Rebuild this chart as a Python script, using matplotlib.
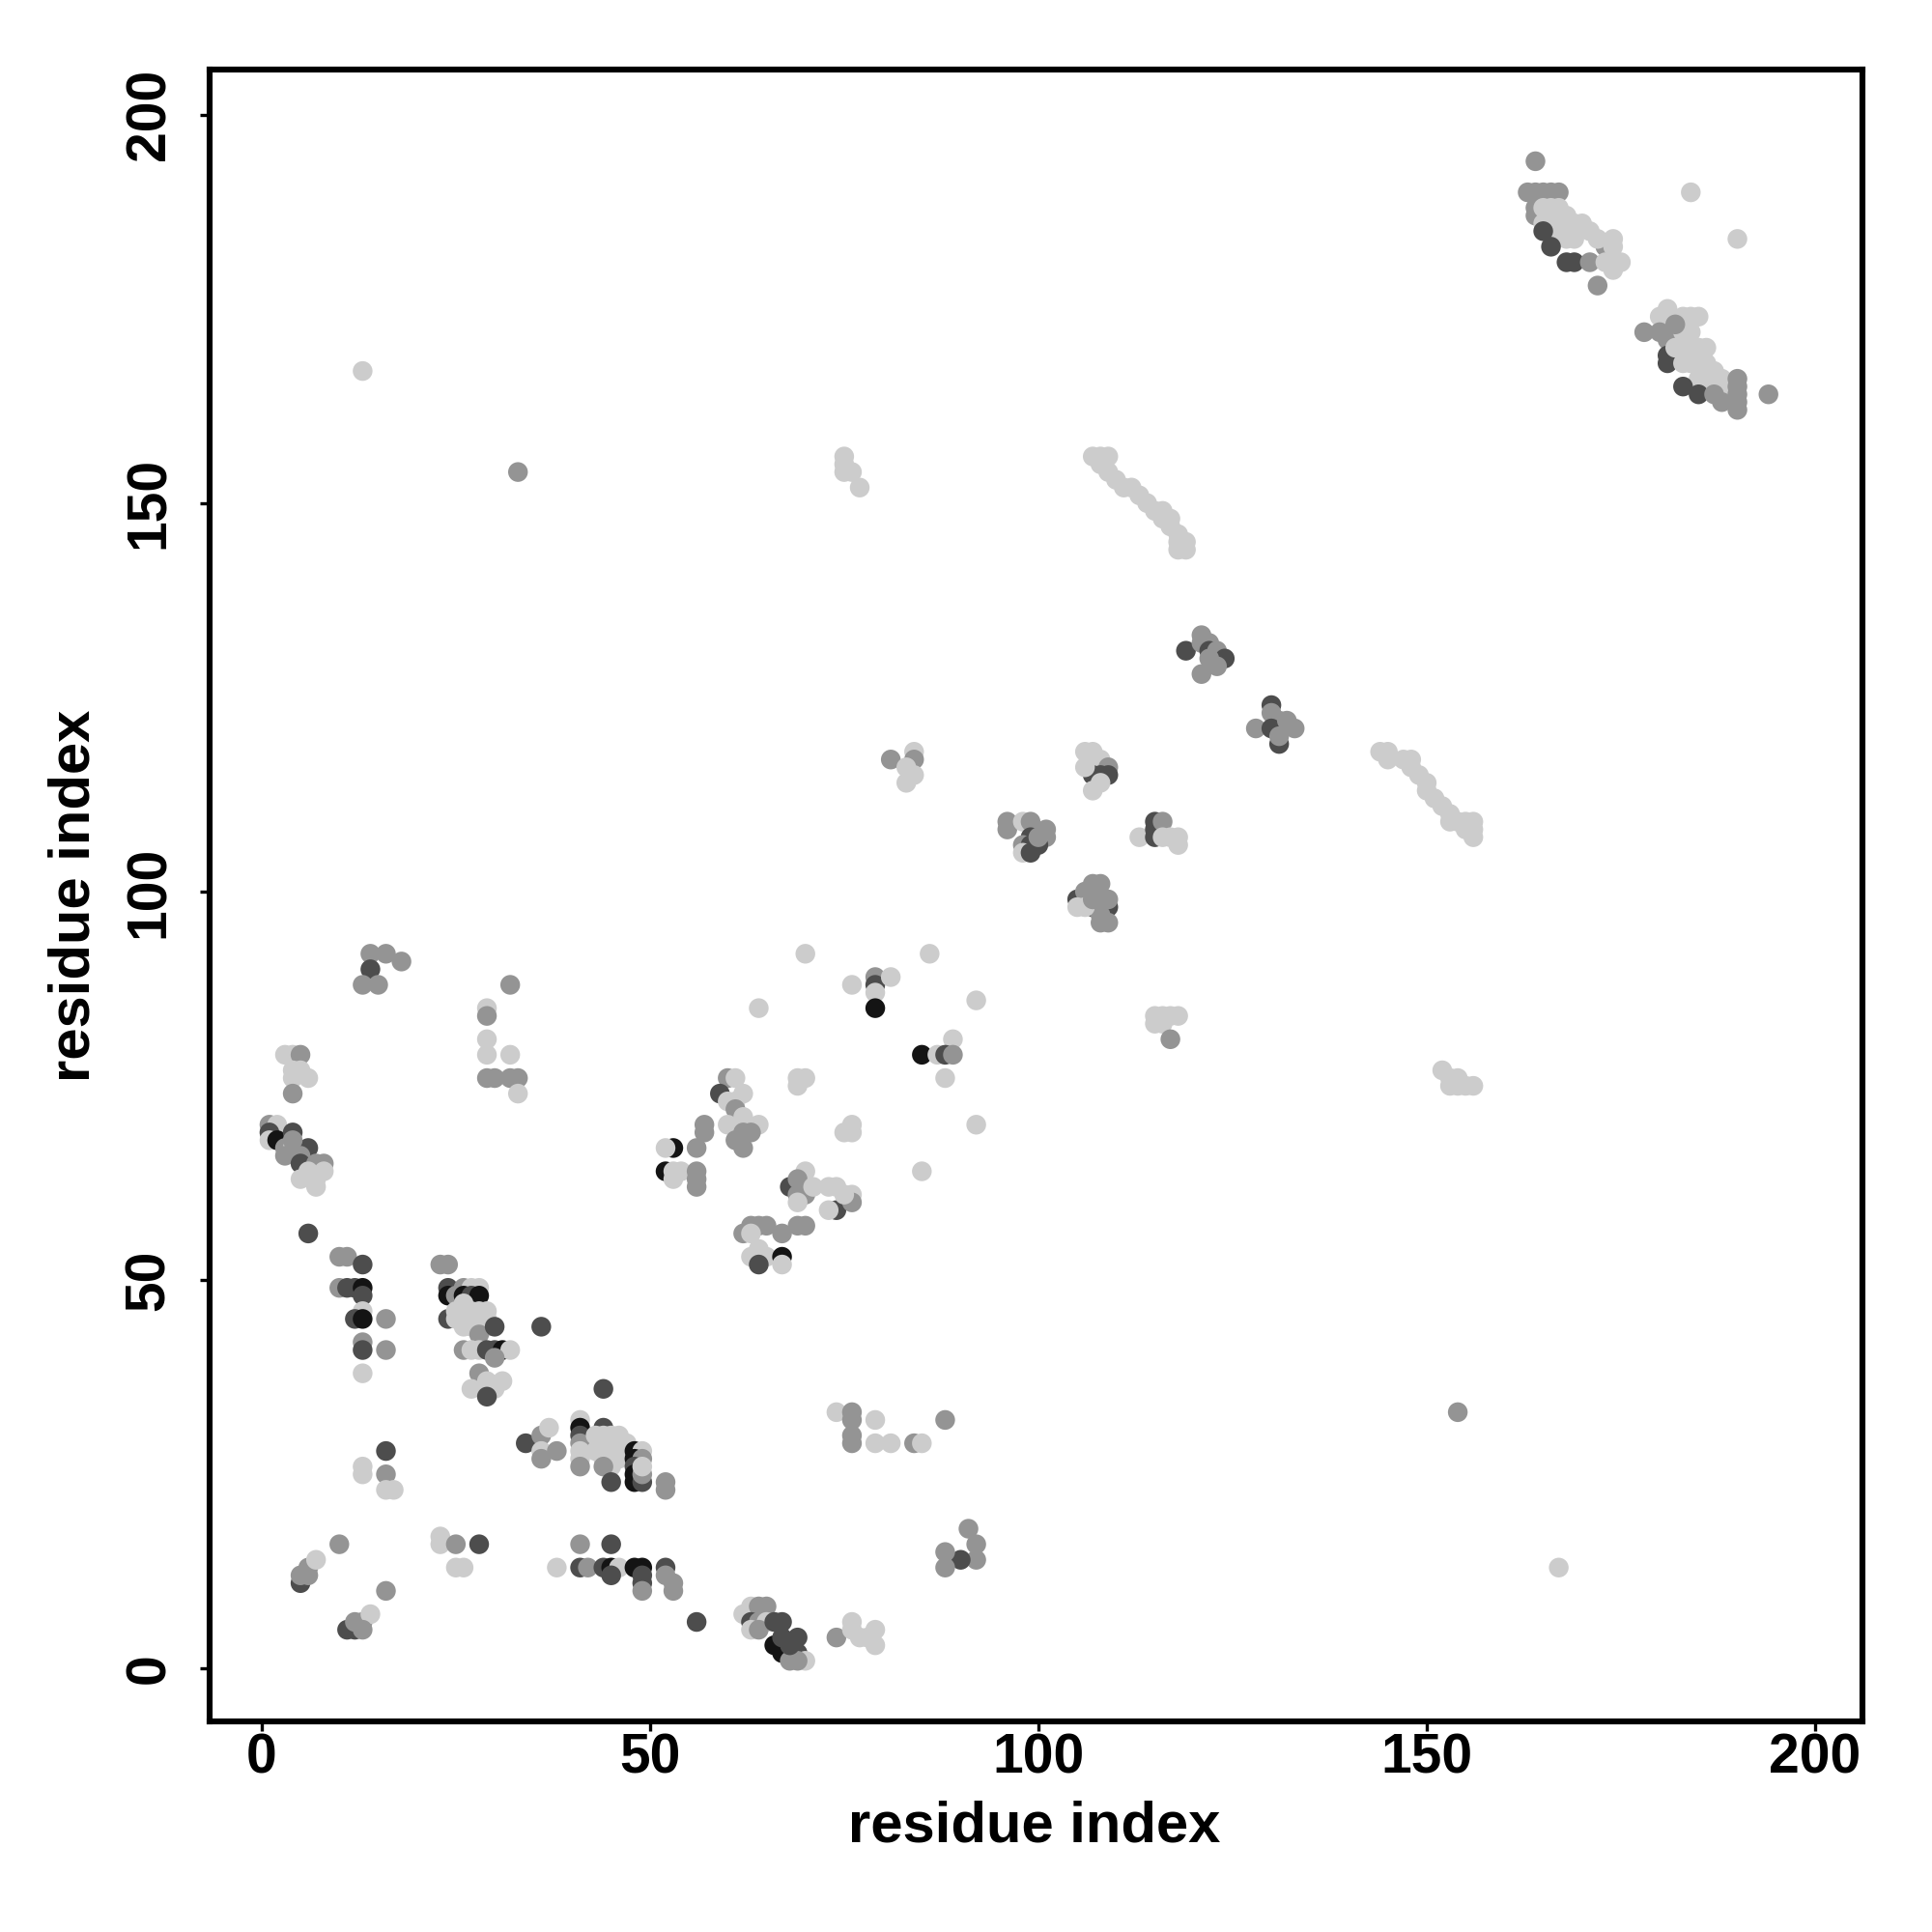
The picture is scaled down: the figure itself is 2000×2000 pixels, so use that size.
import matplotlib
matplotlib.use("Agg")
import matplotlib.pyplot as plt
from matplotlib import font_manager

# ---- data: contact pairs (residue i, residue j) and grey level of each point ----
res_x = [
    1, 2, 1, 1, 2, 3, 4, 4, 6, 5, 3, 5, 7, 8, 6, 7, 8, 5, 7, 4,
    6,
    10, 11, 13, 10, 11, 12, 13, 13, 13, 12, 13, 16, 13, 13, 16, 13,
    23, 24, 24, 26, 27, 28, 24, 25, 26, 27, 28, 24,
    25, 26, 27, 28, 29, 25, 26, 27, 28, 29, 26, 27, 28, 29, 26, 28, 30, 36,
    26, 27, 28, 29, 30, 31, 32, 30, 28, 27, 29, 31, 30, 29,
    13, 13, 16, 16, 16, 17,
    10, 5, 5, 6, 6, 7, 16, 11, 12, 12, 13, 14, 13,
    23, 23, 25, 28, 25, 26,
    38, 41, 42, 41, 45, 44, 45, 46, 45, 48, 49, 49, 49, 49, 52, 52, 53, 53, 56,
    34, 36, 37, 36, 38, 36, 41, 41, 41, 41, 41, 41, 41, 44, 44,
    43, 44, 45, 46, 44, 45, 46, 47, 43, 44, 45, 46, 44, 45, 46, 45, 44, 45,
    48, 49, 48, 49, 48, 48, 48, 49, 49, 49, 52, 52,
    14, 16, 18, 14, 13, 15,
    32, 29, 29, 29, 29, 32, 29, 30, 32, 33, 33,
    3, 4, 5, 4, 5, 4, 6, 4,
    60, 61, 59, 62, 60, 61, 61, 57, 57, 62, 64, 60, 62, 61, 62, 63,
    56, 53, 52, 52, 53, 54, 56, 56, 56, 53,
    69, 70, 69, 75, 76, 76, 70, 68, 69, 69, 70, 71, 69, 73, 74, 76, 74, 73, 76, 75, 85, 92,
    63, 64, 65, 62, 63, 67, 69, 70, 63, 64, 65, 64, 67, 67,
    62, 63, 64, 65, 63, 64, 65, 63, 64, 66, 67, 66, 67, 67, 69, 69, 70, 69, 68, 68,
    74, 76, 76, 77, 79, 79, 78,
    74, 76, 76, 76, 76, 79, 79, 81, 84, 85, 88,
    91, 92, 92, 90, 88, 88,
    70, 86, 76, 79, 79, 79, 79, 81, 92, 64, 89, 85, 87, 88, 89, 88,
    81, 84, 84, 83, 84, 83,
    96, 96, 98, 99, 101, 101, 99, 98, 99, 100, 98, 99, 100,
    105, 106, 106, 107, 108, 107, 109, 108, 109, 108, 105, 106, 109, 107,
    106, 107, 108, 109, 107, 108, 109, 107, 108, 106,
    113, 115, 115, 115, 116, 116, 117, 118, 118,
    115, 116, 117, 118, 115, 116, 117,
    119, 121, 121, 122, 122, 123, 124, 123, 121, 122,
    128, 130, 130, 131, 130, 132, 133, 131, 131,
    107, 108, 109, 108, 109, 110, 111, 112, 113, 114, 115, 116, 117, 116, 117, 118, 118, 118, 119, 119,
    75, 75, 76, 75, 77,
    144, 145, 145, 147, 148, 148, 149, 150, 150, 151, 152, 153, 153, 154, 155, 156, 155, 156, 156,
    152, 153, 154, 153, 154, 155, 156,
    154, 167, 13, 33,
    164, 163, 164, 165, 166, 167, 164, 164, 165, 166, 167, 168, 169, 170, 171, 165, 166, 167, 168, 169,
    166, 167, 168, 165, 166, 168, 169, 171, 172, 173, 174, 174, 173, 174, 175, 174, 172, 184, 190,
    178, 181, 180, 181, 180, 181, 181, 181, 183, 184, 185, 184, 184, 183, 185, 186, 183, 185, 186, 187,
    188, 186, 185, 188, 184, 182, 183, 182, 183, 185, 187, 188, 190, 190, 190, 190, 190, 194,
]
res_y = [
    70, 70, 69, 68, 68, 67, 69, 67, 67, 66, 66, 65, 65, 65, 64, 63, 64, 63, 62, 68,
    56,
    53, 53, 52, 49, 49, 49, 49, 48, 46, 45, 45, 45, 42, 41, 41, 38,
    52, 52, 49, 49, 49, 49, 48, 48, 48, 48, 48, 45,
    46, 46, 46, 46, 46, 45, 45, 45, 45, 45, 44, 44, 44, 44, 47, 43, 44, 44,
    41, 41, 41, 41, 41, 41, 41, 40, 38, 36, 37, 37, 36, 35,
    26, 25, 28, 25, 23, 23,
    16, 11, 12, 12, 13, 14, 10, 5, 5, 6, 6, 7, 5,
    17, 16, 16, 16, 13, 13,
    13, 13, 13, 16, 16, 13, 13, 13, 12, 13, 13, 12, 11, 10, 13, 12, 11, 10, 6,
    29, 30, 31, 28, 28, 27, 32, 31, 30, 29, 28, 27, 26, 36, 31,
    30, 30, 30, 30, 29, 29, 29, 29, 28, 28, 28, 28, 27, 27, 27, 26, 26, 24,
    28, 28, 27, 27, 26, 25, 24, 24, 25, 26, 24, 23,
    92, 92, 91, 90, 88, 88,
    88, 85, 84, 81, 79, 79, 76, 76, 76, 76, 74,
    79, 79, 79, 77, 77, 76, 76, 74,
    76, 76, 74, 74, 73, 73, 72, 70, 69, 71, 70, 70, 69, 68, 67, 69,
    67, 67, 67, 64, 64, 64, 64, 63, 62, 63,
    76, 76, 75, 69, 70, 69, 64, 62, 63, 61, 61, 62, 60, 62, 62, 61, 59, 59, 60, 61, 64, 70,
    57, 57, 57, 56, 56, 56, 57, 57, 53, 54, 53, 52, 53, 52,
    7, 8, 8, 8, 6, 6, 6, 5, 5, 6, 6, 3, 2, 4, 4, 2, 1, 1, 1, 3,
    4, 6, 5, 4, 5, 3, 4,
    33, 33, 32, 30, 29, 32, 29, 29, 29, 29, 32,
    18, 16, 14, 14, 15, 13,
    92, 92, 88, 89, 88, 87, 85, 89, 86, 85, 81, 79, 79, 79, 79, 76,
    117, 118, 117, 116, 115, 114,
    109, 108, 109, 109, 108, 107, 107, 106, 106, 106, 105, 105, 107,
    99, 99, 100, 101, 101, 98, 98, 97, 96, 96, 98, 98, 99, 99,
    118, 118, 117, 116, 115, 115, 115, 113, 114, 116,
    107, 109, 108, 107, 109, 107, 107, 107, 106,
    84, 84, 84, 84, 83, 83, 81,
    131, 133, 132, 132, 131, 131, 130, 129, 128, 130,
    121, 124, 123, 122, 121, 122, 121, 119, 120,
    156, 156, 156, 155, 154, 153, 152, 152, 151, 150, 149, 149, 148, 148, 147, 146, 145, 144, 144, 145,
    156, 155, 154, 154, 152,
    118, 118, 117, 117, 117, 116, 115, 114, 113, 112, 111, 110, 109, 109, 109, 109, 108, 108, 107,
    77, 76, 76, 75, 75, 75, 75,
    33, 13, 167, 154,
    194, 190, 190, 190, 190, 190, 188, 187, 188, 188, 188, 187, 186, 186, 185, 186, 185, 185, 184, 184,
    187, 186, 186, 185, 183, 181, 181, 181, 178, 183, 184, 183, 181, 181, 181, 180, 184, 190, 184,
    172, 175, 174, 174, 172, 171, 169, 168, 174, 174, 174, 172, 170, 170, 170, 170, 168, 168, 168, 167,
    166, 166, 166, 165, 168, 170, 172, 173, 165, 164, 164, 163, 166, 165, 164, 163, 162, 164,
]
grey = [
    .58, .80, .30, .80, .08, .58, .30, .80, .30, .58, .58, .30, .58, .58, .80, .80, .80, .80, .80, .58,
    .30,
    .58, .58, .30, .58, .30, .30, .08, .30, .80, .30, .08, .58, .58, .30, .58, .80,
    .58, .58, .30, .58, .80, .80, .08, .58, .08, .30, .08, .30,
    .80, .80, .80, .80, .80, .80, .80, .80, .80, .80, .80, .80, .80, .80, .80, .58, .30, .30,
    .58, .80, .80, .30, .30, .08, .80, .58, .58, .80, .80, .80, .80, .30,
    .80, .80, .30, .58, .80, .80,
    .58, .30, .58, .58, .58, .80, .58, .30, .30, .58, .58, .80, .58,
    .80, .80, .58, .30, .80, .80,
    .80, .30, .58, .58, .30, .30, .08, .80, .30, .08, .08, .30, .30, .58, .30, .58, .58, .58, .30,
    .30, .58, .80, .80, .58, .58, .80, .08, .30, .58, .80, .80, .58, .30, .30,
    .80, .80, .80, .80, .80, .80, .80, .80, .80, .80, .80, .80, .80, .80, .80, .80, .58, .30,
    .08, .80, .08, .58, .30, .08, .08, .30, .58, .80, .58, .58,
    .58, .58, .58, .30, .58, .58,
    .58, .80, .58, .80, .80, .80, .58, .58, .58, .58, .80,
    .80, .80, .58, .80, .80, .80, .80, .58,
    .58, .80, .30, .80, .80, .80, .58, .58, .58, .80, .80, .80, .58, .58, .58, .58,
    .58, .08, .80, .08, .80, .80, .58, .58, .58, .80,
    .80, .80, .80, .80, .80, .80, .80, .30, .58, .58, .58, .80, .80, .80, .80, .80, .30, .80, .58, .80, .80, .80,
    .58, .58, .58, .58, .80, .58, .58, .58, .80, .80, .80, .30, .08, .80,
    .80, .80, .58, .58, .30, .58, .80, .80, .58, .30, .30, .08, .08, .30, .30, .30, .80, .58, .58, .30,
    .58, .80, .80, .80, .80, .80, .80,
    .80, .58, .58, .58, .58, .80, .80, .80, .58, .80, .58,
    .58, .58, .58, .30, .58, .58,
    .80, .80, .80, .58, .30, .80, .08, .80, .80, .80, .80, .08, .80, .30, .58, .80,
    .58, .80, .58, .80, .80, .80,
    .58, .58, .80, .58, .58, .58, .30, .58, .30, .30, .80, .30, .58,
    .30, .30, .58, .58, .58, .30, .30, .58, .58, .58, .80, .80, .58, .58,
    .80, .80, .80, .58, .30, .30, .30, .80, .80, .80,
    .80, .30, .30, .30, .58, .80, .80, .80, .80,
    .80, .80, .80, .80, .80, .80, .58,
    .30, .58, .58, .58, .30, .58, .30, .58, .58, .58,
    .58, .30, .58, .58, .30, .58, .58, .30, .58,
    .80, .80, .80, .80, .80, .80, .80, .80, .80, .80, .80, .80, .80, .80, .80, .80, .80, .80, .80, .80,
    .80, .80, .80, .80, .80,
    .80, .80, .80, .80, .80, .80, .80, .80, .80, .80, .80, .80, .80, .80, .80, .80, .80, .80, .80,
    .80, .80, .80, .80, .80, .80, .80,
    .58, .80, .80, .58,
    .58, .58, .58, .58, .58, .58, .58, .58, .80, .80, .80, .80, .80, .80, .80, .80, .80, .80, .80, .80,
    .80, .80, .80, .30, .30, .30, .30, .58, .58, .58, .80, .80, .80, .80, .80, .80, .80, .80, .80,
    .58, .80, .80, .80, .58, .58, .30, .30, .80, .80, .80, .80, .80, .80, .80, .80, .80, .80, .80, .80,
    .80, .80, .80, .80, .80, .80, .80, .58, .30, .30, .58, .58, .58, .58, .58, .58, .58, .58,
]

x_ticks = [0, 50, 100, 150, 200]
y_ticks = [0, 50, 100, 150, 200]
x_label = "residue index"
y_label = "residue index"

# ---- fonts ----
avail = {f.name for f in font_manager.fontManager.ttflist}
fam = [f for f in ["Liberation Sans", "DejaVu Sans"] if f in avail]
plt.rcParams["font.family"] = fam

n = min(len(res_x), len(res_y), len(grey))
colors = [(g, g, g) for g in grey[:n]]

fig = plt.figure(figsize=(10, 10), dpi=200)
ax = fig.add_axes([0.1085, 0.109, 0.8555, 0.855])
ax.scatter(res_x[:n], res_y[:n], s=54, c=colors, linewidths=0, zorder=2)

ax.set_xlim(-6.7, 206.1)
ax.set_ylim(-6.8, 205.8)
ax.set_xticks(x_ticks)
ax.set_yticks(y_ticks)
ax.set_xticklabels([str(t) for t in x_ticks], fontsize=20.5, fontweight="bold")
ax.set_yticklabels([str(t) for t in y_ticks], fontsize=20.5, fontweight="bold",
                   rotation=90, va="center")
ax.tick_params(axis="x", length=3.5, width=1.2, pad=0.5, direction="out")
ax.tick_params(axis="y", length=3.5, width=1.2, pad=9, direction="out")
for sp in ax.spines.values():
    sp.set_linewidth(2.2)
    sp.set_color("black")

ax.set_xlabel(x_label, fontsize=21.5, fontweight="bold", va="center")
ax.set_ylabel(y_label, fontsize=21.5, fontweight="bold", va="center")
ax.xaxis.set_label_coords(0.499, -0.064)
ax.yaxis.set_label_coords(-0.082, 0.5)

fig.savefig("out.png", dpi=200, facecolor="white")
